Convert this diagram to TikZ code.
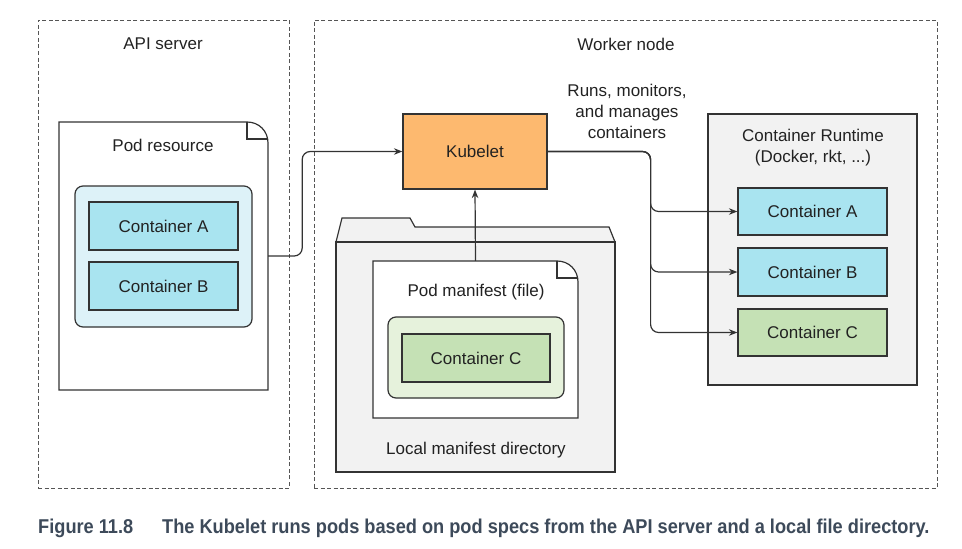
\documentclass[tikz,border=0pt]{standalone}
\usepackage{fontspec}
\setmainfont{Liberation Sans}
\newfontfamily\capfont[FakeStretch=0.91]{Liberation Sans}
\usetikzlibrary{arrows.meta}
\definecolor{linec}{HTML}{333333}
\definecolor{dashc}{HTML}{555555}
\definecolor{txtc}{HTML}{222222}
\definecolor{lblue}{HTML}{DDF2F8}
\definecolor{cblue}{HTML}{A9E4F0}
\definecolor{lgreen}{HTML}{E6F2DC}
\definecolor{cgreen}{HTML}{C5E1B5}
\definecolor{orng}{HTML}{FDB96F}
\definecolor{grayf}{HTML}{F2F2F2}
\definecolor{capc}{HTML}{3D4A5A}
\tikzset{
  lbl/.style={text=txtc, font=\fontsize{17}{21}\selectfont, inner sep=0pt},
  region/.style={draw=dashc, line width=1pt, dash pattern=on 4pt off 2.5pt},
  box/.style={draw=linec, line width=1.2pt, inner sep=0pt, text=txtc, font=\fontsize{17}{21}\selectfont},
  ghost/.style={inner sep=0pt},
  conn/.style={draw=linec, line width=1.2pt, rounded corners=8pt},
  arr/.style={-{Stealth[length=8.5pt,width=6.5pt]}},
  outline/.style={draw=linec, line width=1.2pt},
}
\begin{document}
\begin{tikzpicture}[x=1pt,y=-1pt]
\useasboundingbox (0,0) rectangle (962,549);
% regions
\node[region, minimum width=251pt, minimum height=468pt] (api) at (163.5,254) {};
\node[region, minimum width=623pt, minimum height=468pt] (worker) at (625.5,254) {};
\node[lbl] (apit) at (163,44) {API server};
\node[lbl] (workert) at (626,44) {Worker node};

% Pod resource document
\node[ghost, minimum width=209pt, minimum height=268pt] (podres) at (163.5,256) {};
\draw[outline, fill=white] (59,122) -- (247,122) .. controls (259,122) and (268,131) .. (268,143) -- (268,390) -- (59,390) -- cycle;
\draw[outline] (247,122) -- (247,139) -- (267,139);
\node[lbl] (podrest) at (163,145) {Pod resource};
\node[box, fill=lblue, rounded corners=8pt, minimum width=177pt, minimum height=141pt] (podbox) at (163.5,256.5) {};
\node[box, fill=cblue, minimum width=149pt, minimum height=48pt] (pa) at (163.5,226) {Container A};
\node[box, fill=cblue, minimum width=149pt, minimum height=48pt] (pb) at (163.5,286) {Container B};

% Kubelet
\node[box, fill=orng, minimum width=144pt, minimum height=75pt] (kub) at (475,151.5) {Kubelet};

% Folder
\draw[outline, fill=grayf] (336,242) -- (342,218) -- (410,218) -- (415,227) -- (609,227) -- (615,242) -- cycle;
\node[box, fill=grayf, minimum width=279pt, minimum height=230pt] (folder) at (475.5,357) {};
\node[lbl] (foldert) at (476,450) {Local manifest directory};

% Pod manifest document
\node[ghost, minimum width=205pt, minimum height=157pt] (pm) at (475.5,339.5) {};
\draw[outline, fill=white] (373,261) -- (557,261) .. controls (569,261) and (578,270) .. (578,282) -- (578,418) -- (373,418) -- cycle;
\draw[outline] (557,261) -- (557,278) -- (577,278);
\node[lbl] (pmt) at (476,292) {Pod manifest (file)};
\node[box, fill=lgreen, rounded corners=8pt, minimum width=176pt, minimum height=81pt] (pmbox) at (476,357.5) {};
\node[box, fill=cgreen, minimum width=148pt, minimum height=48pt] (pc) at (476,358) {Container C};

% Container runtime
\node[box, fill=grayf, minimum width=209pt, minimum height=271pt] (rt) at (812.5,249.5) {};
\node[lbl, align=center] (rtt) at (813,147.5) {Container Runtime\\(Docker, rkt, ...)};
\node[box, fill=cblue, minimum width=149pt, minimum height=47pt] (ra) at (812.5,211.5) {Container A};
\node[box, fill=cblue, minimum width=149pt, minimum height=48pt] (rb) at (812.5,272) {Container B};
\node[box, fill=cgreen, minimum width=149pt, minimum height=47pt] (rc) at (812.5,332.5) {Container C};

\node[lbl, align=center] (runs) at (627,111) {Runs, monitors,\\and manages\\containers};

% connectors
\draw[conn, arr] (podres.east) -- ++(34,0) |- (kub.west);
\draw[conn, arr] (pm.north) -- (kub.south);
\draw[conn, arr] (kub.east) -- ++(103,0) |- (ra.west);
\draw[conn, arr] (kub.east) -- ++(103,0) |- (rb.west);
\draw[conn, arr] (kub.east) -- ++(103,0) |- (rc.west);

% caption
\node[anchor=base west, inner sep=0pt, text=capc, font=\capfont\bfseries\fontsize{20}{24}\selectfont] (capfig) at (38,533) {Figure 11.8};
\node[anchor=base west, inner sep=0pt, text=capc, font=\capfont\bfseries\fontsize{20}{24}\selectfont] (cap) at (162,533) {The Kubelet runs pods based on pod specs from the API server and a local file directory.};
\end{tikzpicture}
\end{document}
